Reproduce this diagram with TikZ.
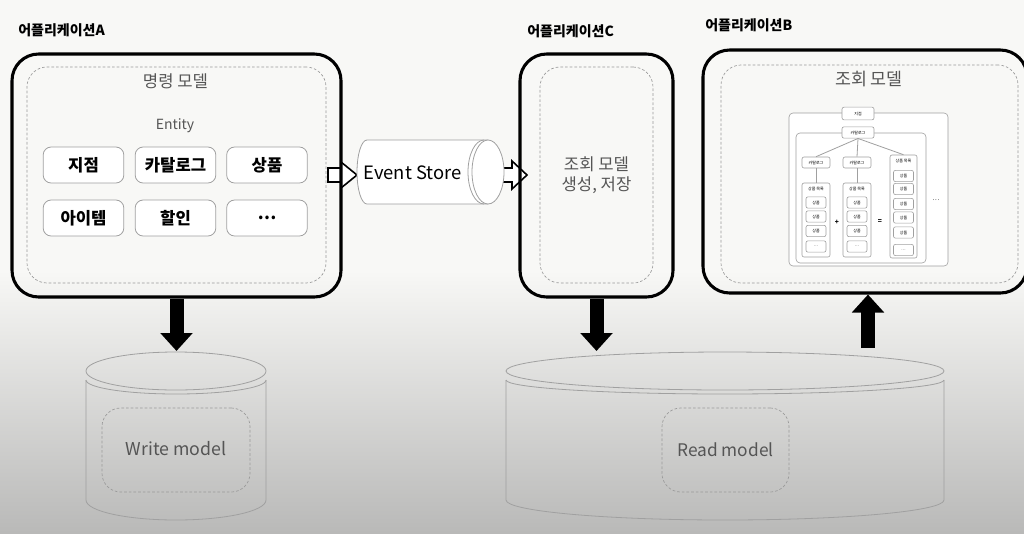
\documentclass[tikz,border=0pt]{standalone}
\usepackage{fontspec}
\setmainfont{Noto Sans CJK KR}
\usetikzlibrary{arrows.meta,calc,fit}
\definecolor{bgtop}{HTML}{F8F8F6}
\definecolor{bgbot}{HTML}{B9B9B8}
\definecolor{txtgray}{HTML}{555555}
\definecolor{linegray}{HTML}{A0A0A0}
\definecolor{dashgray}{HTML}{9A9A9A}
\tikzset{
 appbox/.style={draw=black, line width=2.3pt, rounded corners=20pt, inner sep=0pt},
 dashbox/.style={draw=dashgray, dash pattern=on 2pt off 1.5pt, line width=0.5pt, rounded corners=15pt, inner sep=0pt},
 entbox/.style={draw=linegray, fill=white, line width=0.6pt, rounded corners=6pt, minimum width=60.5pt, minimum height=27pt, inner sep=0pt, font=\fontsize{12.5}{14}\selectfont\bfseries},
 applabel/.style={font=\fontsize{10.5}{12}\selectfont\bfseries, anchor=west, inner sep=0pt},
 graytxt/.style={text=txtgray, inner sep=0pt},
 hollow/.style={draw=black, fill=white, line width=1.2pt, line join=miter},
 bigarrow/.style={line width=10.5pt, -{Triangle[length=13.5pt,width=23.5pt]}},
 dbline/.style={draw=linegray, line width=0.6pt},
 tinybox/.style={draw=linegray, fill=white, line width=0.45pt, rounded corners=1.5pt, inner sep=0pt, font=\fontsize{3}{3.5}\selectfont},
 tinytxt/.style={inner sep=0pt, font=\fontsize{3}{3.5}\selectfont},
 katal/.style={tinybox, minimum width=21pt, minimum height=8.25pt},
 item/.style={tinybox, minimum width=15pt, minimum height=8.5pt},
}
\begin{document}
\begin{tikzpicture}[x=0.75pt,y=-0.75pt]
\useasboundingbox (0,0) rectangle (1024,533);
\fill[bgtop] (0,0) rectangle (1024,533);
\shade[top color=bgtop, bottom color=bgbot] (0,270) rectangle (1024,533);

% ---------- labels ----------
\node[applabel] (labA) at (18,30) {어플리케이션A};
\node[applabel] (labC) at (527,31) {어플리케이션C};
\node[applabel] (labB) at (705,25) {어플리케이션B};

% ---------- hollow arrows (drawn under boxes) ----------
\coordinate (h1) at (328,175);
\coordinate (h2) at (500,175);
\draw[hollow] (h1) ++(0,-7) -- ++(13,0) -- ++(0,-6) -- ++(16,13) -- ++(-16,13) -- ++(0,-6) -- ++(-13,0) -- cycle;
\draw[hollow] (h2) ++(0,-7) -- ++(12,0) -- ++(0,-7) -- ++(15,14) -- ++(-15,14) -- ++(0,-7) -- ++(-12,0) -- cycle;

% ---------- application A ----------
\node[appbox, fit={(12,54)(341,297)}] (appA) {};
\node[dashbox, fit={(27,67)(326,283)}] (cmdA) {};
\node[graytxt, font=\fontsize{12.5}{14}\selectfont] (cmdT) at (175.5,81) {명령 모델};
\node[graytxt, font=\fontsize{10.5}{12}\selectfont] (entT) at (175,126) {Entity};
\node[entbox] (e1) at (83.5,165) {지점};
\node[entbox] (e2) at (175.5,165) {카탈로그};
\node[entbox] (e3) at (267,165) {상품};
\node[entbox] (e4) at (83.5,218) {아이템};
\node[entbox] (e5) at (175.5,218) {할인};
\node[entbox] (e6) at (267,218) {…};

% ---------- Event Store ----------
\filldraw[dbline, fill=white] (488,140) -- (367,140) arc[start angle=270, end angle=90, x radius=10, y radius=32] -- (488,204);
\filldraw[dbline, fill=white] (488,172) ellipse [x radius=16, y radius=32];
\draw[dbline] (484,140) arc[start angle=270, end angle=90, x radius=16, y radius=32];
\node[inner sep=0pt, font=\fontsize{13.8}{15}\selectfont] (es) at (412.5,173) {Event Store};

% ---------- application C ----------
\node[appbox, fit={(520,54)(673,297)}] (appC) {};
\node[dashbox, fit={(540,67)(653,283)}] (cmdC) {};
\node[graytxt, align=center, font=\fontsize{12.5}{15}\selectfont] (cT) at (596.5,175) {조회 모델\\생성, 저장};

% ---------- application B ----------
\node[appbox, fit={(703,50)(1027,293)}] (appB) {};
\node[dashbox, fit={(721,65)(1018,283)}] (cmdB) {};
\node[graytxt, font=\fontsize{13}{15}\selectfont] (bT) at (869,79) {조회 모델};

% nested read model
\node[tinybox, fit={(789,113)(948,266)}, rounded corners=3pt] (tOuter) {};
\node[tinybox, fit={(796,133)(926,263)}, rounded corners=3pt] (tInner) {};
\node[tinybox, minimum width=24pt, minimum height=9.5pt] (tJ) at (858,113.5) {지점};
\node[tinybox, minimum width=24pt, minimum height=8.5pt] (tK) at (858,132.5) {카탈로그};
\node[katal] (tK1) at (816,162.5) {카탈로그};
\node[katal] (tK2) at (857,162.5) {카탈로그};
\node[tinybox, fit={(802,183)(830,257)}] (tL1) {};
\node[tinybox, fit={(843,183)(871,257)}] (tL2) {};
\node[tinybox, fit={(890,155)(917,258)}] (tL3) {};
\node[tinytxt] (tL1t) at (816,189) {상품 목록};
\node[tinytxt] (tL2t) at (857,189) {상품 목록};
\node[tinytxt] (tL3t) at (903.5,161) {상품 목록};
\foreach \x/\n in {816/a,857/b}{
  \node[item] (i\n1) at (\x,202.5) {상품};
  \node[item] (i\n2) at (\x,216.5) {상품};
  \node[item] (i\n3) at (\x,231) {상품};
  \node[item] (i\n4) at (\x,246.5) {…};
}
\foreach \y/\k in {176/1,189/2,204/3,217.5/4,232.5/5}{
  \node[item] (ic\k) at (903.5,\y) {상품};
}
\node[item] (ic6) at (903.5,250) {…};
\draw[linegray, line width=0.6pt] (tK.south) -- (tK1.north);
\draw[linegray, line width=0.6pt] (tK.south) -- (tK2.north);
\draw[linegray, line width=0.6pt] (tK.south) -- (tL3.north);
\draw[linegray, line width=0.6pt] (tK1.south) -- (tL1.north);
\draw[linegray, line width=0.6pt] (tK2.south) -- (tL2.north);
\node[tinytxt, font=\fontsize{5}{5}\selectfont\bfseries] (plus) at (837,222) {+};
\node[tinytxt, font=\fontsize{5}{5}\selectfont\bfseries] (eq) at (880,222) {=};
\node[tinytxt, font=\fontsize{5}{5}\selectfont] (more) at (936,200) {…};

% ---------- Write DB ----------
\draw[dbline] (86,380) -- (86,500) arc[start angle=180, end angle=0, x radius=90, y radius=20] -- (266,380);
\draw[dbline] (86,380) arc[start angle=180, end angle=0, x radius=90, y radius=14];
\draw[dbline] (176,371) ellipse [x radius=90, y radius=19];
\node[dashbox, rounded corners=14pt, fit={(102,408)(250,492)}] (wIn) {};
\node[graytxt, font=\fontsize{13.3}{15}\selectfont] (wT) at (176,449) {Write model};
\coordinate (wdbTop) at (176.5,351);

% ---------- Read DB ----------
\draw[dbline] (506,380) -- (506,500) arc[start angle=180, end angle=0, x radius=219, y radius=20] -- (944,380);
\draw[dbline] (506,380) arc[start angle=180, end angle=0, x radius=219, y radius=14];
\draw[dbline] (725,371) ellipse [x radius=219, y radius=19];
\node[dashbox, rounded corners=14pt, fit={(662,408)(789,492)}] (rIn) {};
\node[graytxt, font=\fontsize{13}{15}\selectfont] (rT) at (725.5,450) {Read model};
\coordinate (rdbC) at (596.5,351);
\coordinate (rdbB) at (868,348);

% ---------- big arrows ----------
\draw[bigarrow] (appA.south) -- (wdbTop);
\draw[bigarrow] (appC.south) -- (rdbC);
\draw[bigarrow] (rdbB) -- (rdbB |- appB.south);
\end{tikzpicture}
\end{document}
